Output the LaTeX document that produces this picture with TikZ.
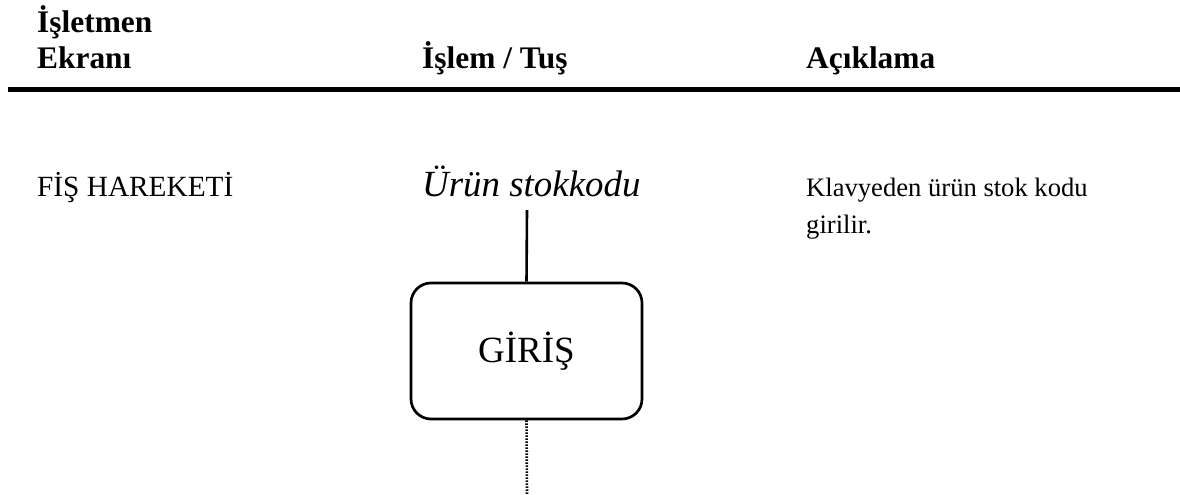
\documentclass[tikz,border=0pt]{standalone}
\usepackage{fontspec}
\setmainfont{Liberation Serif}
\begin{document}
\begin{tikzpicture}[x=1pt,y=-1pt,
  hdr/.style={anchor=base west,inner sep=0pt,font=\fontsize{31.4}{35}\selectfont\bfseries,align=left},
  body/.style={anchor=base west,inner sep=0pt,font=\fontsize{26.6}{37}\selectfont,align=left},
  keybox/.style={draw,line width=2.7pt,rounded corners=20pt,minimum width=231pt,minimum height=136pt,inner sep=0pt,font=\fontsize{37}{44}\selectfont},
  link/.style={line width=2.6pt}]
\useasboundingbox (0,0) rectangle (1180,495);
\node[hdr] (h1) at (37,33) {İşletmen};
\node[hdr] (h1b) at (37,68) {Ekranı};
\node[hdr] (h2) at (422,68) {İşlem / Tuş};
\node[hdr] (h3) at (806,68) {Açıklama};
\coordinate (rl) at (8,89.5);
\coordinate (rr) at (1180,89.5);
\draw[line width=4.8pt] (rl) -- (rr);
\node[body,font=\fontsize{29.3}{36}\selectfont] (scr) at (37,196) {FİŞ HAREKETİ};
\node[body,font=\fontsize{36.9}{40}\selectfont\itshape] (inp) at (422,196) {Ürün stokkodu};
\node[body] (d1) at (806,196) {Klavyeden ürün stok kodu};
\node[body] (d2) at (806,233) {girilir.};
\coordinate (top) at (527,210);
\node[keybox] (key) at (526.5,351) {GİRİŞ};
\coordinate (bot) at (527,495);
\draw[link] (top) -- (key.north);
\draw[link,dash pattern=on 1.6pt off 1.4pt] (key.south) -- (bot);
\end{tikzpicture}
\end{document}
